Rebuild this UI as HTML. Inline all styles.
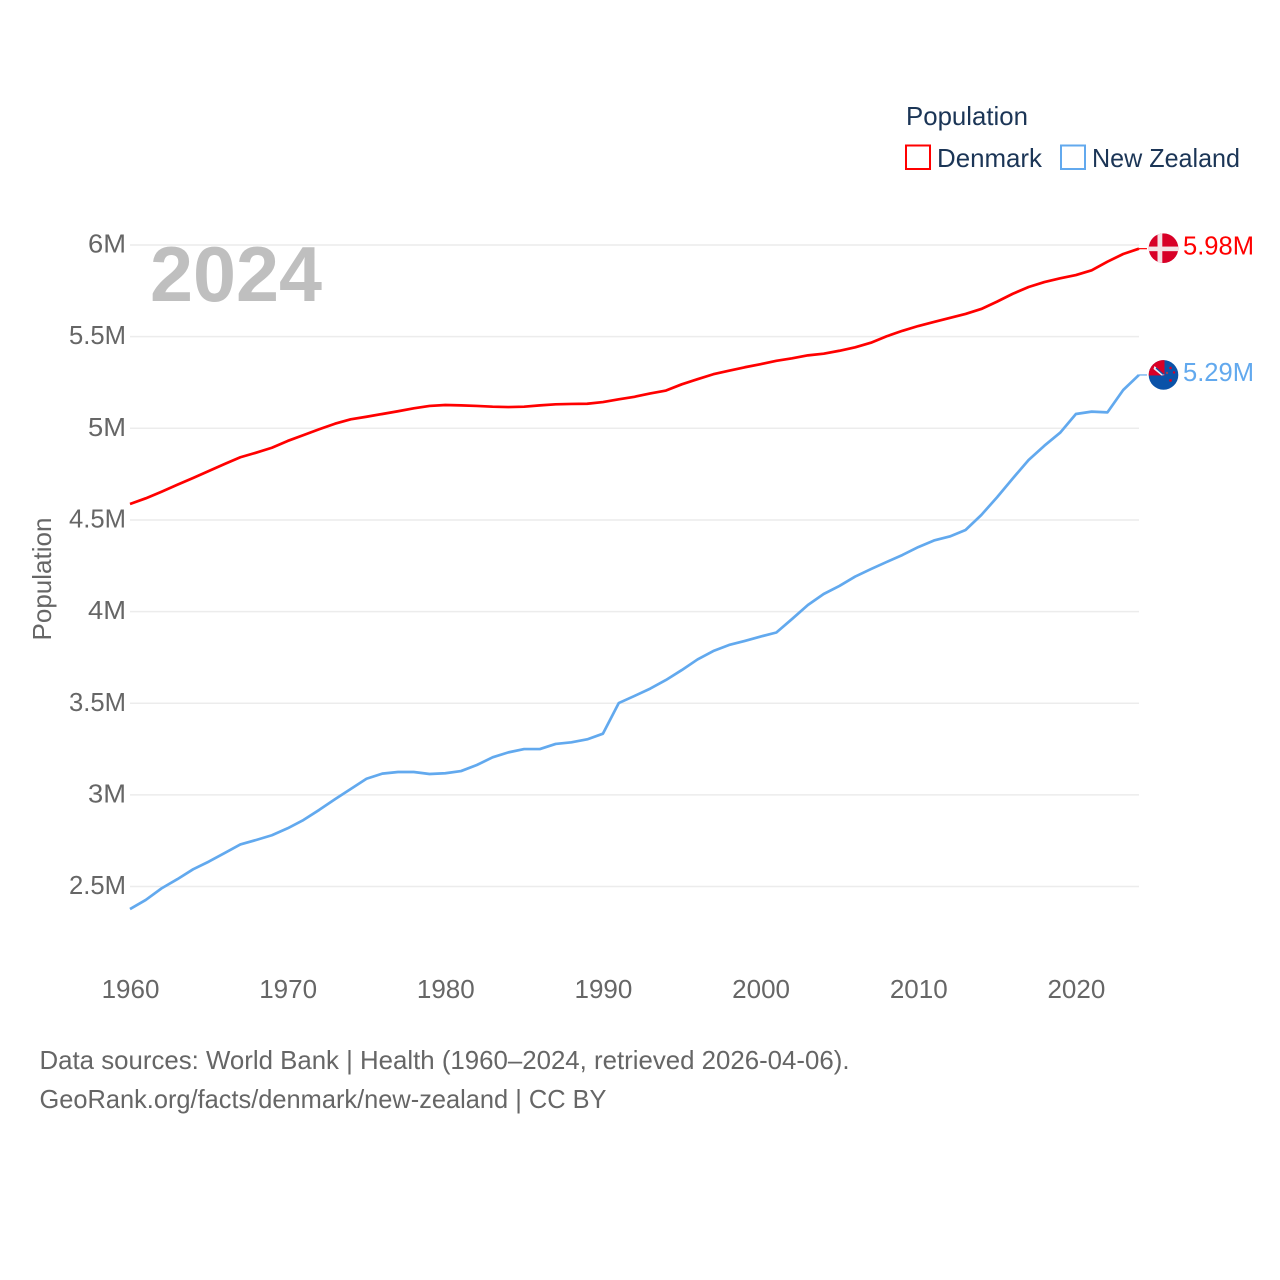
<!DOCTYPE html>
<html lang="en">
<head>
<meta charset="utf-8">
<title>Population: Denmark and New Zealand</title>
<style>
html,body{margin:0;padding:0;background:#fff;width:1280px;height:1280px;overflow:hidden}
svg{display:block;font-family:"Liberation Sans",sans-serif}
</style>
</head>
<body>
<svg id="chart" width="1280" height="1280" viewBox="0 0 1280 1280" xmlns="http://www.w3.org/2000/svg">
  <defs>
    <clipPath id="flag-clip"><circle cx="0" cy="0" r="14.8"></circle></clipPath>
  </defs>
  <g id="grid"></g>
  <g id="y-ticks"></g>
  <g id="x-ticks"></g>
  <text x="150" y="301" font-size="78" font-weight="700" fill="#bfbfbf" textLength="172" lengthAdjust="spacingAndGlyphs">2024</text>
  <text transform="translate(51,579) rotate(-90)" text-anchor="middle" font-size="26" fill="#666" textLength="123" lengthAdjust="spacingAndGlyphs">Population</text>
  <g id="series"></g>
  <g id="ends"></g>
  <g>
    <text x="906" y="125" font-size="26" fill="#1b3556" textLength="122" lengthAdjust="spacingAndGlyphs">Population</text>
    <g>
      <rect x="906" y="145.5" width="24" height="23.5" fill="none" stroke="#ff0000" stroke-width="2"></rect>
      <text x="937" y="167" font-size="26" fill="#1b3556" textLength="105" lengthAdjust="spacingAndGlyphs">Denmark</text>
    </g>
    <g>
      <rect x="1061" y="145.5" width="24" height="23.5" fill="none" stroke="#62a9ee" stroke-width="2"></rect>
      <text x="1092" y="167" font-size="26" fill="#1b3556" textLength="148" lengthAdjust="spacingAndGlyphs">New Zealand</text>
    </g>
  </g>
  <text x="39.5" y="1069" font-size="26" fill="#666" textLength="810" lengthAdjust="spacingAndGlyphs">Data sources: World Bank | Health (1960–2024, retrieved 2026-04-06).</text>
  <text x="39.5" y="1108" font-size="26" fill="#666" textLength="567" lengthAdjust="spacingAndGlyphs">GeoRank.org/facts/denmark/new-zealand | CC BY</text>
</svg>
<script>
const startYear = 1960;
const xTickYears = [1960, 1970, 1980, 1990, 2000, 2010, 2020];
const yTickValues = [2.5, 3, 3.5, 4, 4.5, 5, 5.5, 6];
const yTickLabels = ['2.5M', '3M', '3.5M', '4M', '4.5M', '5M', '5.5M', '6M'];
const denmarkValues = [4.587,4.618,4.654,4.692,4.729,4.767,4.805,4.842,4.867,4.894,4.931,4.963,4.995,5.025,5.049,5.063,5.078,5.093,5.109,5.122,5.127,5.125,5.122,5.118,5.116,5.118,5.125,5.131,5.133,5.134,5.143,5.158,5.172,5.19,5.206,5.24,5.268,5.295,5.314,5.333,5.35,5.368,5.382,5.398,5.407,5.423,5.442,5.467,5.502,5.532,5.558,5.58,5.602,5.624,5.651,5.691,5.734,5.771,5.798,5.818,5.836,5.862,5.909,5.951,5.98];
const newZealandValues = [2.377,2.427,2.49,2.54,2.594,2.636,2.683,2.73,2.754,2.78,2.818,2.863,2.918,2.976,3.032,3.088,3.116,3.125,3.125,3.114,3.118,3.13,3.163,3.205,3.232,3.25,3.25,3.278,3.287,3.303,3.334,3.501,3.54,3.58,3.627,3.681,3.739,3.785,3.818,3.84,3.864,3.886,3.96,4.036,4.096,4.14,4.191,4.232,4.271,4.309,4.352,4.388,4.41,4.445,4.527,4.624,4.727,4.827,4.905,4.976,5.078,5.091,5.087,5.209,5.291];
const denmarkEndLabel = '5.98M';
const newZealandEndLabel = '5.29M';

const SVG_NS = 'http://www.w3.org/2000/svg';
function xScale(year) { return 130 + (year - 1960) * 15.765; }
function yScale(value) { return 245 + (6 - value) * 183.3; }
function make(tag, attrs, parent) {
  const el = document.createElementNS(SVG_NS, tag);
  for (const k in attrs) el.setAttribute(k, attrs[k]);
  parent.appendChild(el);
  return el;
}

const grid = document.getElementById('grid');
const yTicks = document.getElementById('y-ticks');
yTickValues.forEach(function (v, i) {
  const line = make('line', {x1: 130, x2: 1139, y1: yScale(v), y2: yScale(v), stroke: '#ececec', 'stroke-width': 1.5}, grid);
  
  
  const label = make('text', {x: 126, y: yScale(v) + 7.5, 'text-anchor': 'end', 'font-size': 26, fill: '#666', textLength: yTickLabels[i].length === 2 ? 38 : 57, lengthAdjust: 'spacingAndGlyphs'}, yTicks);
  label.textContent = yTickLabels[i];
  
  
});

const xTicks = document.getElementById('x-ticks');
xTickYears.forEach(function (yr) {
  const label = make('text', {x: xScale(yr) + 0.5, y: 998, 'text-anchor': 'middle', 'font-size': 26, fill: '#666'}, xTicks);
  label.textContent = String(yr);
  
  
});

function pathFor(values) {
  return values.map(function (v, i) {
    return (i ? 'L' : 'M') + xScale(startYear + i).toFixed(2) + ' ' + yScale(v).toFixed(2);
  }).join(' ');
}

const series = document.getElementById('series');
const denmarkLine = make('path', {d: pathFor(denmarkValues), fill: 'none', stroke: '#ff0000', 'stroke-width': 2.7, 'stroke-linejoin': 'round'}, series);


const nzLine = make('path', {d: pathFor(newZealandValues), fill: 'none', stroke: '#62a9ee', 'stroke-width': 2.7, 'stroke-linejoin': 'round'}, series);



const ends = document.getElementById('ends');
const xEnd = xScale(startYear + denmarkValues.length - 1);
const yDk = yScale(denmarkValues[denmarkValues.length - 1]);
const yNz = yScale(newZealandValues[newZealandValues.length - 1]);

const dkLeader = make('line', {x1: xEnd, x2: xEnd + 8, y1: yDk, y2: yDk, stroke: '#ff0000', 'stroke-width': 1.2}, ends);


const nzLeader = make('line', {x1: xEnd, x2: xEnd + 8, y1: yNz, y2: yNz, stroke: '#62a9ee', 'stroke-width': 1.2}, ends);



const dkFlag = make('g', {transform: 'translate(1163.5,' + (yDk - 0.5) + ')', 'clip-path': 'url(#flag-clip)'}, ends);


make('rect', {x: -15, y: -15, width: 30, height: 30, fill: '#d80027'}, dkFlag);
make('rect', {x: -6, y: -15, width: 4.8, height: 30, fill: '#f3e3e6'}, dkFlag);
make('rect', {x: -15, y: -1.6, width: 30, height: 4.6, fill: '#f3e3e6'}, dkFlag);

const nzFlag = make('g', {transform: 'translate(1163.5,' + yNz + ')', 'clip-path': 'url(#flag-clip)'}, ends);


make('rect', {x: -15, y: -15, width: 30, height: 30, fill: '#0a52a8'}, nzFlag);
make('rect', {x: -15, y: -15, width: 16, height: 15.5, fill: '#d80027'}, nzFlag);
make('path', {d: 'M-9 -9 L1 0 L-2 0.5 L-10 -6 Z', fill: '#eef0f6'}, nzFlag);
make('path', {d: 'M-7.5 -7 L0 -0.5', stroke: '#0a52a8', 'stroke-width': 1.3, fill: 'none'}, nzFlag);
make('circle', {cx: 7, cy: -7, r: 1.3, fill: '#d80027'}, nzFlag);
make('circle', {cx: 10.5, cy: -2.5, r: 1.2, fill: '#d80027'}, nzFlag);
make('circle', {cx: 3.5, cy: -2, r: 1.2, fill: '#a03c50'}, nzFlag);
make('circle', {cx: 7, cy: 5.5, r: 1.4, fill: '#d80027'}, nzFlag);

const dkLabel = make('text', {x: 1183, y: yDk + 6, 'font-size': 26, fill: '#ff0000', textLength: 71, lengthAdjust: 'spacingAndGlyphs'}, ends);
dkLabel.textContent = denmarkEndLabel;


const nzLabel = make('text', {x: 1183, y: yNz + 6, 'font-size': 26, fill: '#62a9ee', textLength: 71, lengthAdjust: 'spacingAndGlyphs'}, ends);
nzLabel.textContent = newZealandEndLabel;


</script>
</body>
</html>
